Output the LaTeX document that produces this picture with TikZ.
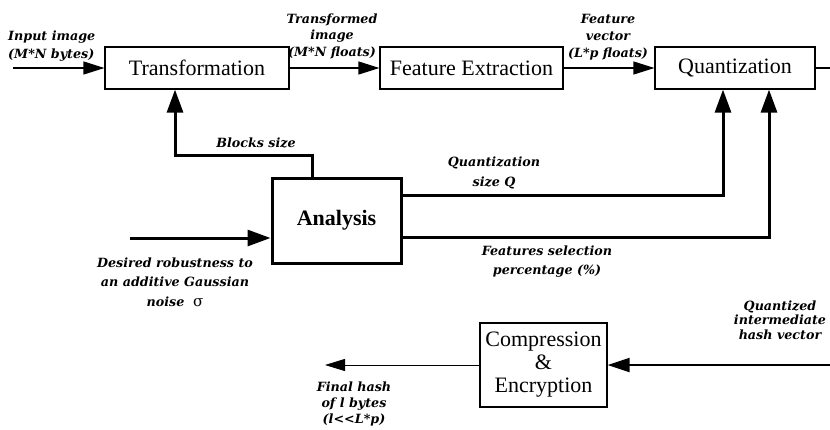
\documentclass[tikz,border=0pt]{standalone}
\usepackage{fontspec}
\setmainfont{Liberation Serif}
\newfontfamily\lblfont{DejaVu Serif}
\usetikzlibrary{arrows.meta}
\tikzset{
  box/.style={draw, line width=1.2pt, inner sep=0pt, font=\fontsize{22}{23}\selectfont, align=center},
  bigbox/.style={draw, line width=3pt, inner sep=0pt, font=\bfseries\fontsize{22}{23}\selectfont},
  lbl/.style={font=\lblfont\bfseries\itshape\fontsize{12.7}{17}\selectfont, align=center, inner sep=0pt},
  thinarr/.style={line width=1.2pt, -{Triangle[length=21pt,width=13pt]}},
  thickarr/.style={line width=3pt, -{Triangle[length=23pt,width=16pt]}},
  medarr/.style={line width=2pt, -{Triangle[length=22pt,width=14pt]}},
}
\begin{document}
\begin{tikzpicture}[x=1pt,y=-1pt]
\useasboundingbox[fill=white] (0,0) rectangle (830,429);
% boxes
\node[box, minimum width=184pt, minimum height=42pt] (T) at (197,68) {Transformation};
\node[box, minimum width=183pt, minimum height=42pt] (F) at (471.5,68) {Feature Extraction};
\node[box, minimum width=160pt, minimum height=42pt] (Q) at (735,68) {Quantization};
\node[bigbox, minimum width=129pt, minimum height=85pt] (A) at (336.5,220.5) {Analysis};
\node[box, minimum width=127pt, minimum height=84pt] (C) at (543.5,365) {Compression\\\&\\Encryption};
% coordinates
\coordinate (in1) at (13,68);
\coordinate (qout) at (832,68);
\coordinate (b1) at (312,155);
\coordinate (b2) at (175,155);
\coordinate (q1) at (723,195);
\coordinate (q2) at (769,237);
\coordinate (in2) at (130,238);
\coordinate (cin) at (832,365);
\coordinate (cout) at (325,365);
% connectors
\draw[thinarr] (in1) -- (T.west);
\draw[thinarr] (T.east) -- (F.west);
\draw[thinarr] (F.east) -- (Q.west);
\draw[line width=1.2pt] (Q.east) -- (qout);
\draw[thickarr] (A.north -| b1) -- (b1) -- (b2) -- (T.south -| b2);
\draw[thickarr] (A.east |- q1) -- (q1) -- (Q.south -| q1);
\draw[thickarr] (A.east |- q2) -- (q2) -- (Q.south -| q2);
\draw[thickarr] (in2) -- (A.west |- in2);
\draw[medarr] (cin) -- (C.east);
\draw[line width=0.9pt, -{Triangle[length=20pt,width=12pt]}] (C.west) -- (cout);
% labels
\node[lbl, anchor=west, align=left, font=\lblfont\bfseries\itshape\fontsize{12.7}{18}\selectfont] (l1) at (8,46) {Input image\\(M*N bytes)};
\node[lbl, font=\lblfont\bfseries\itshape\fontsize{12.7}{16.5}\selectfont] (l2) at (332,36) {Transformed\\image\\(M*N floats)};
\node[lbl, font=\lblfont\bfseries\itshape\fontsize{12.7}{17}\selectfont] (l3) at (608,37) {Feature\\vector\\(L*p floats)};
\node[lbl] (l4) at (256,143) {Blocks size};
\node[lbl, font=\lblfont\bfseries\itshape\fontsize{12.7}{20}\selectfont] (l5) at (494,173) {Quantization\\size Q};
\node[lbl, font=\lblfont\bfseries\itshape\fontsize{12.7}{19}\selectfont] (l6) at (547,262) {Features selection\\percentage (\%)};
\node[lbl, font=\lblfont\bfseries\itshape\fontsize{12.7}{19.5}\selectfont] (l7) at (175,282) {Desired robustness to\\an additive Gaussian\\noise\ \ {\mdseries\upshape\fontsize{15}{15}\selectfont σ}};
\node[lbl, font=\lblfont\bfseries\itshape\fontsize{12.7}{14.5}\selectfont] (l8) at (780,320) {Quantized\\intermediate\\hash vector};
\node[lbl, font=\lblfont\bfseries\itshape\fontsize{12.7}{16}\selectfont] (l9) at (354,404) {Final hash\\of l bytes\\(l<{}<L*p)};
\end{tikzpicture}
\end{document}
